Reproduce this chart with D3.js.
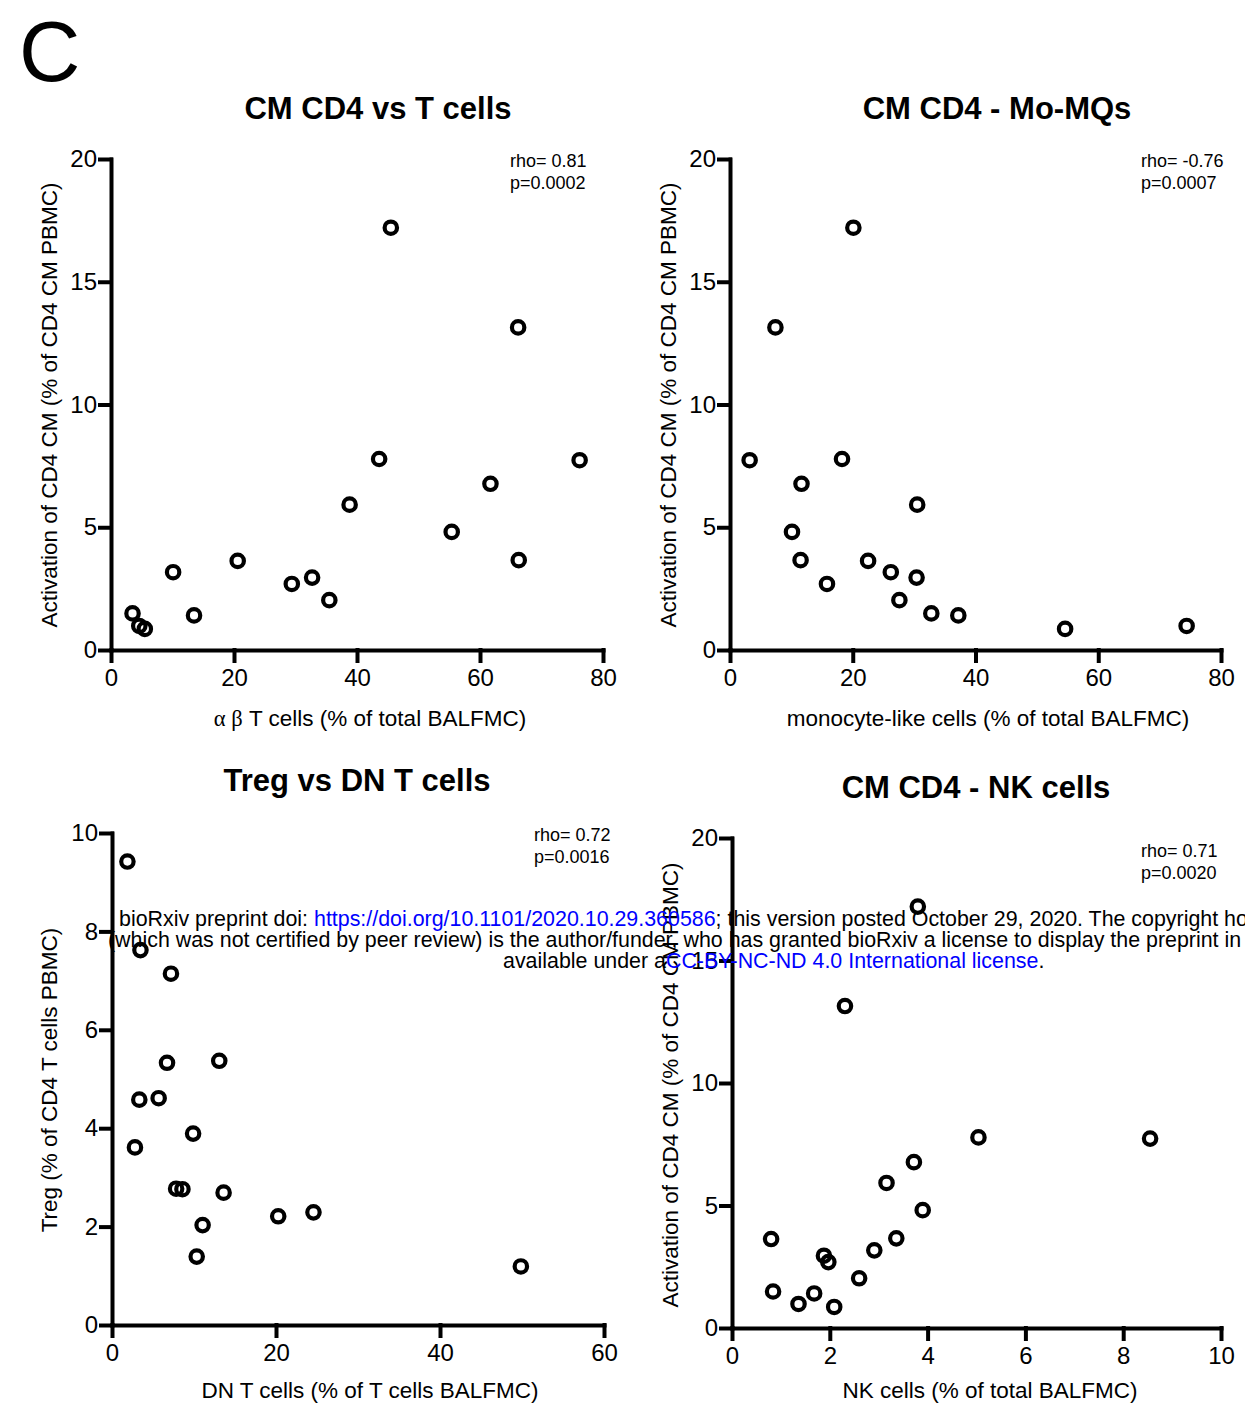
<!DOCTYPE html>
<html>
<head>
<meta charset="utf-8">
<script src="https://cdn.jsdelivr.net/npm/d3@7"></script>
<style>
  body { margin: 0; background: #fff; }
  text { font-family: "Liberation Sans", Arial, Helvetica, sans-serif; fill: #000; }
</style>
</head>
<body>
<div id="fig"></div>
<script>
var width = 1245, height = 1407;

// activation of CD4 CM (% of CD4 CM PBMC), one value per patient
var cd4cm = [1.49, 0.98, 0.86, 3.17, 1.41, 3.63, 2.69, 2.95, 2.03, 5.92, 7.78, 17.2, 4.81, 6.77, 13.14, 3.66, 7.73];
// same patients, BAL populations
var abTcells = [3.5, 4.6, 5.5, 10.1, 13.5, 20.6, 29.4, 32.7, 35.5, 38.8, 43.6, 45.5, 55.4, 61.7, 66.2, 66.3, 76.2];
var monoLike = [32.8, 74.4, 54.6, 26.2, 37.2, 22.5, 15.8, 30.4, 27.6, 30.5, 18.25, 20.1, 10.1, 11.65, 7.4, 11.5, 3.2];
var nkCells = [0.84, 1.36, 2.09, 2.91, 1.68, 0.80, 1.97, 1.88, 2.60, 3.16, 5.04, 3.80, 3.90, 3.72, 2.31, 3.36, 8.55];

// Treg vs DN T cells
var dnTcells = [1.88, 3.47, 7.19, 6.71, 13.08, 3.33, 5.69, 9.89, 2.80, 7.82, 8.59, 13.61, 11.05, 20.27, 24.57, 10.33, 49.86];
var treg = [9.42, 7.62, 7.14, 5.33, 5.37, 4.58, 4.61, 3.89, 3.61, 2.77, 2.76, 2.69, 2.03, 2.21, 2.29, 1.39, 1.19];

var ticks20 = [0, 5, 10, 15, 20];
var ticks80 = [0, 20, 40, 60, 80];
var ticks60 = [0, 20, 40, 60];
var ticks10 = [0, 2, 4, 6, 8, 10];

var panels = [
  { title: "CM CD4 vs T cells", x: abTcells, y: cd4cm, xMax: 80, yMax: 20,
    xTicks: ticks80, yTicks: ticks20, rho: "rho= 0.81", p: "p=0.0002",
    xLabel: ["α β", " T cells (% of total BALFMC)"], yLabel: "Activation of CD4 CM (% of CD4 CM PBMC)",
    left: 111, right: 603, top: 159, bottom: 650, titleX: 378, titleY: 119, statX: 510, statY: 167,
    xLabelX: 370, xLabelY: 726, yLabelX: 57, yLabelY: 405 },
  { title: "CM CD4 - Mo-MQs", x: monoLike, y: cd4cm, xMax: 80, yMax: 20,
    xTicks: ticks80, yTicks: ticks20, rho: "rho= -0.76", p: "p=0.0007",
    xLabel: [null, "monocyte-like cells (% of total BALFMC)"], yLabel: "Activation of CD4 CM (% of CD4 CM PBMC)",
    left: 730, right: 1221, top: 159, bottom: 650, titleX: 997, titleY: 119, statX: 1141, statY: 167,
    xLabelX: 988, xLabelY: 726, yLabelX: 676, yLabelY: 405 },
  { title: "Treg vs DN T cells", x: dnTcells, y: treg, xMax: 60, yMax: 10,
    xTicks: ticks60, yTicks: ticks10, rho: "rho= 0.72", p: "p=0.0016",
    xLabel: [null, "DN T cells (% of T cells BALFMC)"], yLabel: "Treg (% of CD4 T cells PBMC)",
    left: 112, right: 604, top: 833, bottom: 1325, titleX: 357, titleY: 791, statX: 534, statY: 841,
    xLabelX: 370, xLabelY: 1398, yLabelX: 57, yLabelY: 1080 },
  { title: "CM CD4 - NK cells", x: nkCells, y: cd4cm, xMax: 10, yMax: 20,
    xTicks: ticks10, yTicks: ticks20, rho: "rho= 0.71", p: "p=0.0020",
    xLabel: [null, "NK cells (% of total BALFMC)"], yLabel: "Activation of CD4 CM (% of CD4 CM PBMC)",
    left: 732, right: 1221, top: 838, bottom: 1328, titleX: 976, titleY: 798, statX: 1141, statY: 857,
    xLabelX: 990, xLabelY: 1398, yLabelX: 678, yLabelY: 1085 }
];

var svg = d3.select("#fig").append("svg")
  .attr("width", width).attr("height", height);

svg.append("text")
  .attr("x", 19).attr("y", 81)
  .attr("font-size", 85)
  .text("C");

panels.forEach(function (d) {
  var x = d3.scaleLinear().domain([0, d.xMax]).range([d.left, d.right]);
  var y = d3.scaleLinear().domain([0, d.yMax]).range([d.bottom, d.top]);
  var g = svg.append("g");

  g.append("text")
    .attr("x", d.titleX).attr("y", d.titleY)
    .attr("text-anchor", "middle")
    .attr("font-size", 31).attr("font-weight", "bold")
    .text(d.title);

  var xAxis = g.append("g")
    .attr("transform", "translate(0," + d.bottom + ")")
    .call(d3.axisBottom(x).tickValues(d.xTicks).tickFormat(d3.format("d"))
      .tickSize(11).tickSizeOuter(0).tickPadding(8));
  var yAxis = g.append("g")
    .attr("transform", "translate(" + d.left + ",0)")
    .call(d3.axisLeft(y).tickValues(d.yTicks).tickFormat(d3.format("d"))
      .tickSize(11).tickSizeOuter(0).tickPadding(3));

  [xAxis, yAxis].forEach(function (a) {
    a.selectAll("path, line")
      .attr("stroke", "#000").attr("stroke-width", 4).attr("stroke-linecap", "square");
    a.selectAll("text")
      .attr("font-size", 24).attr("font-family", null);
  });

  var xl = g.append("text")
    .attr("x", d.xLabelX).attr("y", d.xLabelY)
    .attr("text-anchor", "middle")
    .attr("font-size", 22.5);
  if (d.xLabel[0]) {
    xl.append("tspan").attr("font-family", "'Liberation Serif', 'DejaVu Serif', serif").text(d.xLabel[0]);
  }
  xl.append("tspan").text(d.xLabel[1]);

  g.append("text")
    .attr("text-anchor", "middle")
    .attr("font-size", 22.5)
    .attr("transform", "translate(" + d.yLabelX + "," + d.yLabelY + ") rotate(-90)")
    .text(d.yLabel);

  g.append("text")
    .attr("x", d.statX).attr("y", d.statY)
    .attr("font-size", 18)
    .text(d.rho);
  g.append("text")
    .attr("x", d.statX).attr("y", d.statY + 22)
    .attr("font-size", 18)
    .text(d.p);

  g.selectAll("circle")
    .data(d.x.map(function (v, i) { return [v, d.y[i]]; }))
    .join("circle")
    .attr("cx", function (p) { return x(p[0]); })
    .attr("cy", function (p) { return y(p[1]); })
    .attr("r", 6.2)
    .attr("fill", "none")
    .attr("stroke", "#000")
    .attr("stroke-width", 4.2);
});

// preprint banner laid over the page
var banner = svg.append("g").attr("font-size", 21.4);
var line1 = banner.append("text").attr("x", 119).attr("y", 926);
line1.append("tspan").text("bioRxiv preprint doi: ");
line1.append("tspan").style("fill", "#0000ff")
  .text("https://doi.org/10.1101/2020.10.29.360586");
line1.append("tspan").text("; this version posted October 29, 2020. The copyright holder for this preprint");
banner.append("text").attr("x", 108).attr("y", 947)
  .text("(which was not certified by peer review) is the author/funder, who has granted bioRxiv a license to display the preprint in");
var line3 = banner.append("text").attr("x", 503).attr("y", 968);
line3.append("tspan").text("available under a");
line3.append("tspan").style("fill", "#0000ff").text("CC-BY-NC-ND 4.0 International license");
line3.append("tspan").text(".");
</script>
</body>
</html>
